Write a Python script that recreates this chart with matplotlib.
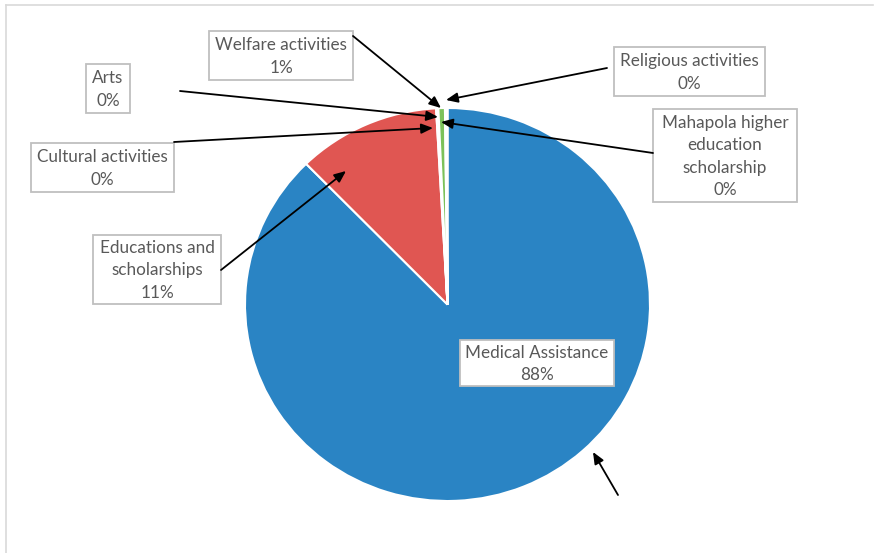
import matplotlib.pyplot as plt
from matplotlib.patches import Rectangle

# data (clockwise from 12 o'clock)
categories = ['Medical Assistance', 'Educations and\nscholarships', 'Cultural activities',
              'Arts', 'Welfare activities', 'Religious activities',
              'Mahapola higher\neducation\nscholarship']
values = [87.7, 11.4, 0.1, 0.08, 0.52, 0.1, 0.1]
colors = ['#2A84C4', '#E05652', '#A5A5A5', '#FFC000', '#7CC15A', '#FFFFFF', '#FFFFFF']

W, H = 875, 553
plt.rcParams['font.family'] = ['Lato', 'DejaVu Sans']

fig = plt.figure(figsize=(W / 100, H / 100), dpi=100)

# pie in its own axes, box = pixel extent of the pie (slightly wider than tall)
pl, pr, pt, pb = 245, 650, 108, 501
pax = fig.add_axes([pl / W, 1 - pb / H, (pr - pl) / W, (pb - pt) / H])
pax.pie(values, colors=colors, startangle=90, counterclock=False, radius=1,
        wedgeprops=dict(edgecolor='white', linewidth=1.5))
pax.set_xlim(-1, 1)
pax.set_ylim(-1, 1)
pax.set_aspect('auto')
pax.axis('off')

ax = fig.add_axes([0, 0, 1, 1])
ax.patch.set_alpha(0)

def py(y):
    return H - y

# label boxes (pixel coords: x0, y0, x1, y1), arrow start, arrow tip
layout = [
    ((460, 340, 614, 386), (618, 495), (593, 452)),
    ((93, 235, 221, 304), (221, 270), (346, 171)),
    ((31, 143, 174, 192), (174, 142), (433, 128)),
    ((86, 64, 130, 113), (180, 91), (438, 117)),
    ((209, 31, 353, 80), (353, 36), (441, 108)),
    ((614, 47, 765, 96), (607, 68), (446, 100)),
    ((653, 109, 797, 202), (653, 153), (441, 122)),
]

total = sum(values)
for name, v, (box, start, tip) in zip(categories, values, layout):
    x0, y0, x1, y1 = box
    ax.add_patch(Rectangle((x0, py(y1)), x1 - x0, y1 - y0, facecolor='white',
                           edgecolor='#BFBFBF', linewidth=1.3, zorder=3))
    ax.text((x0 + x1) / 2, py((y0 + y1) / 2) - 1, f"{name}\n{v / total * 100:.0f}%",
            ha='center', va='center', fontsize=12.3, color='#595959',
            linespacing=1.5, zorder=4)
    ax.annotate('', xy=(tip[0], py(tip[1])), xytext=(start[0], py(start[1])),
                arrowprops=dict(arrowstyle='-|>,head_length=0.7,head_width=0.3',
                                color='black', lw=1.3, shrinkA=0, shrinkB=0),
                zorder=5)

# chart frame
ax.plot([6, 873], [py(5), py(5)], color='#D9D9D9', lw=1.2)
ax.plot([6, 6], [py(5), 0], color='#D9D9D9', lw=1.2)

ax.set_xlim(0, W)
ax.set_ylim(0, H)
ax.axis('off')

fig.savefig('out.png', dpi=100)
